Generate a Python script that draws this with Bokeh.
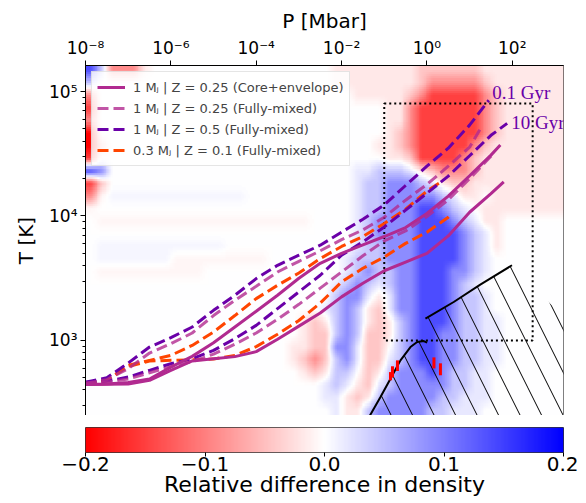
import numpy as np
from bokeh.plotting import figure
from bokeh.models import (Range1d, FixedTicker, CustomJSTickFormatter, LinearColorMapper,
                          Legend, LegendItem)
from bokeh.layouts import column
from bokeh.core.properties import value
from bokeh.embed import file_html
from bokeh.resources import INLINE

# ---------------- data (log10 P [Mbar], log10 T [K]) ----------------
logP_std = [-8, -7.5, -7, -6.5, -6, -5.5, -5, -4.5, -4, -3.5, -3, -2.5, -2, -1.5, -1, -0.5, 0, 0.5, 1]

# 1 MJ, Z=0.25, core+envelope (0.1 Gyr, 10 Gyr)
ce_young_logP = logP_std + [1.5, 1.72]
ce_young_logT = [2.647, 2.65, 2.663, 2.69, 2.786, 2.872, 2.982, 3.108, 3.234, 3.363, 3.50, 3.62,
                 3.70, 3.768, 3.835, 3.907, 4.02, 4.159, 4.323, 4.489, 4.57]
ce_old_logP = logP_std + [1.5, 1.8]
ce_old_logT = [2.647, 2.648, 2.65, 2.68, 2.76, 2.835, 2.853, 2.87, 2.91, 3.01, 3.115, 3.22,
               3.35, 3.46, 3.56, 3.63, 3.70, 3.84, 4.03, 4.18, 4.274]

# 1 MJ, Z=0.25, fully mixed
z025_young_logP = logP_std + [1.25]
z025_young_logT = [2.657, 2.685, 2.773, 2.899, 2.974, 3.06, 3.20, 3.323, 3.435, 3.55, 3.636, 3.72,
                   3.81, 3.888, 3.99, 4.127, 4.253, 4.40, 4.553, 4.70]
z025_old_logP = logP_std + [1.5, 1.56]
z025_old_logT = [2.657, 2.665, 2.69, 2.74, 2.79, 2.83, 2.89, 2.97, 3.06, 3.17, 3.29, 3.42,
                 3.55, 3.68, 3.80, 3.88, 3.996, 4.13, 4.30, 4.48, 4.503]

# 1 MJ, Z=0.5, fully mixed
z05_young_logP = logP_std + [1.45]
z05_young_logT = [2.665, 2.70, 2.818, 2.947, 3.022, 3.108, 3.242, 3.363, 3.497, 3.604, 3.685, 3.765,
                  3.87, 3.974, 4.089, 4.245, 4.40, 4.545, 4.73, 4.93]
z05_old_logP = logP_std + [1.5, 1.88]
z05_old_logT = [2.665, 2.673, 2.706, 2.76, 2.813, 2.853, 2.92, 3.014, 3.121, 3.256, 3.39, 3.524,
                3.685, 3.792, 3.912, 4.047, 4.183, 4.32, 4.484, 4.648, 4.744]

# 0.3 MJ, Z=0.1, fully mixed
s03_young_logP = logP_std[:17] + [0.36]
s03_young_logT = [2.652, 2.679, 2.80, 2.84, 2.88, 2.96, 3.068, 3.20, 3.336, 3.443, 3.542, 3.658,
                  3.755, 3.835, 3.94, 4.055, 4.20, 4.28]
s03_old_logP = logP_std[:18] + [0.59]
s03_old_logT = [2.652, 2.68, 2.79, 2.835, 2.84, 2.845, 2.85, 2.88, 2.95, 3.05, 3.16, 3.30,
                3.47, 3.58, 3.67, 3.78, 3.87, 3.99, 4.02]

# validity box (P in Mbar, T in K)
box_P = [0.1, 300]
box_T = [1000, 80000]

# boundary curves of the hatched region (log10 P, log10 T)
upper_logP = [-0.035, 0.627, 1.25, 1.993]
upper_logT = [3.175, 3.309, 3.449, 3.604]
lower_logP = [-1.39, -1.322, -1.088, -0.854, -0.620, -0.386, -0.229, -0.075, 0.005]
lower_logT = [2.36, 2.406, 2.545, 2.693, 2.840, 2.947, 2.987, 2.995, 2.982]
hatch_logP = lower_logP + upper_logP + [3.2, 3.3, 3.3, -1.39]
hatch_logT = lower_logT + upper_logT + [3.189, 3.189, 2.30, 2.30]

# experimental points (P in Mbar, T range in K)
exp_P = [0.14, 0.156, 0.204, 1.46, 2.07]
exp_Tlo = [478, 505, 568, 596, 525]
exp_Thi = [557, 620, 692, 731, 655]

# relative density difference map, cells of 0.25 dex in P (-8..3.25) and ~0.1 dex in T (top row first)
drho_levels = {"Y": -0.2, "R": -0.15, "r": -0.09, "p": -0.045, "q": -0.018, "f": -0.007, ".": 0.0,
               "e": 0.007, "c": 0.018, "l": 0.045, "b": 0.09, "B": 0.14}
drho_rows = [
    "Blrrr q.... ..... ..... ...qq qqqqq qpppp ppqqq qqqqq",
    "l.... ..... ..... ..... ...qq qqqqq qprrr rrpqq qqqqq",
    "r.... ..... ..... ..... ..... qqqqq prRRR RRrpq qqqqq",
    "R.... ..... ..... ..... ..... ...qq rRRRR RRrpq qqqqq",
    "r.... ..... ..... ..... ..... ...qq rRRRR RRrpq qqqqq",
    "Y.... ..... ..... ..... ..... ...qp rRRRR RRrpq qqqqq",
    "Yp... ..... ..... ..... ..... ..qqp rRRRR Rrpqq qqqqq",
    "R.... ..... ..... ..... ..... ...qq pRRRR rpqqq qqqqq",
    "Bb... ..... ..... ..... ..... cclll cqprr rpqqq qqqqq",
    "Rp... ..... ..... ..... ..... cllbb blcqp pqqqq qqqqq",
    "rfeee eeeee eeeee ..... ..... cllbb bbblc qq.qq qqqqq",
    "f.... ..... ..... ..... ..... cllbb bBBbl c.qqq qqqqq",
    ".ffff fffff fffff fffff f.... clbbb bBBBb lcqq. .....",
    "..... ..... ..... ..... ..... clbbb bBBBB blcq. .....",
    ".eeee eeeee eee.. ..... ..... cllbb bBBBB blcq. .....",
    ".eeee eeeff fffff ff... ....c lllbb bBBBB blc.. .....",
    ".ffff fffff f.... ..... ....c lbllb bBBBb blc.. .....",
    "..... ..... ..... ..... ...cl blclb bBBBb lc... .....",
    "..... ..... ..... ..... ...lb bcqcb bBBBb llc.. .....",
    "..... ..... ..... ..... ..clb lqpcb bBBBb llc.. .....",
    "..... ..... ..... ..... qpqlb lqpql bBBBb llcc. .....",
    "..... ..... ..... ..... qpplb lppql bBBbb llcc. .....",
    "..... ..... ..... ....q qppbb cpp.l bBBbb llcc. .....",
    "..... ..... ..... ....q prplb cppcl bBBbb llcc. .....",
    "..... ..... ..... ..... qpqll .pqlb bbBbl lcc.. .....",
    "..... ..... ..... ..... ..clc qpclb bbbbl lcc.. .....",
    "..... ..... ..... ..... ..ccq pqlbb bbbll ccc.. .....",
    "..... ..... ..... ..... ...cq qlbbb bbllc cc... .....",
]

# ---------------- styling helpers ----------------
purple = "#6a00a8"
magenta = "#b12a90"
orange = "#ff4500"
FONT = "DejaVu Sans"


def bwr_palette(n=256):
    pal = []
    for i in range(n):
        t = i / (n - 1)
        if t <= 0.5:
            v = int(round(255 * 2 * t))
            pal.append("#%02x%02x%02x" % (255, v, v))
        else:
            v = int(round(255 * 2 * (1 - t)))
            pal.append("#%02x%02x%02x" % (v, v, 255))
    return pal


mapper = LinearColorMapper(palette=bwr_palette(), low=-0.2, high=0.2)

# build map image (bottom row first) and smooth it for display
Z = np.array([[drho_levels[ch] for ch in r.replace(" ", "")] for r in drho_rows])[::-1]
ny, nx = Z.shape
f = 6
xc = (np.arange(nx) + 0.5) / nx
yc = (np.arange(ny) + 0.5) / ny
xf = (np.arange(nx * f) + 0.5) / (nx * f)
yf = (np.arange(ny * f) + 0.5) / (ny * f)
Zx = np.array([np.interp(xf, xc, row) for row in Z])
Zf = np.array([np.interp(yf, yc, col) for col in Zx.T]).T

sup_code = """
const e = Math.round(Math.log10(tick));
const m = {"-": "⁻", "0": "⁰", "1": "¹", "2": "²", "3": "³", "4": "⁴", "5": "⁵", "6": "⁶", "7": "⁷", "8": "⁸", "9": "⁹"};
let s = "";
for (const c of String(e)) { s += m[c]; }
return "10" + s;
"""

p = figure(width=578, height=415, x_axis_type="log", y_axis_type="log",
           x_range=Range1d(1e-8, 10 ** 3.2), y_range=Range1d(10 ** 2.397, 10 ** 5.209),
           x_axis_location="above", toolbar_location=None, output_backend="svg",
           min_border_left=85, min_border_right=15, min_border_top=65, min_border_bottom=0)
p.xgrid.visible = False
p.ygrid.visible = False
p.outline_line_color = "black"
p.outline_line_alpha = 1
p.outline_line_width = 1

p.image(image=[Zf], x=1e-8, y=10 ** 2.39, dw=10 ** 3.25 - 1e-8, dh=10 ** 5.22 - 10 ** 2.39,
        color_mapper=mapper)

# hatched region and its boundaries
p.patch(x=10 ** np.array(hatch_logP), y=10 ** np.array(hatch_logT), fill_color=None,
        line_color=None, hatch_pattern="\\", hatch_scale=43, hatch_weight=1, hatch_color="black")
p.line(10 ** np.array(upper_logP), 10 ** np.array(upper_logT), line_color="black", line_width=2)
p.line(10 ** np.array(lower_logP), 10 ** np.array(lower_logT), line_color="black", line_width=2)

# dotted box
p.quad(left=[box_P[0]], right=[box_P[1]], bottom=[box_T[0]], top=[box_T[1]], fill_color=None,
       line_color="black", line_width=2, line_dash="2 3")

# experimental points
p.segment(x0=exp_P, y0=exp_Tlo, x1=exp_P, y1=exp_Thi, line_color="#ff0000", line_width=3)


def curve(lp, lt, color, dash, alpha=1.0):
    kw = dict(line_color=color, line_width=3, line_alpha=alpha)
    if dash:
        kw["line_dash"] = "11 5"
    return p.line(10 ** np.array(lp), 10 ** np.array(lt), **kw)


r_s03 = curve(s03_young_logP, s03_young_logT, orange, True)
curve(s03_old_logP, s03_old_logT, orange, True)
r_z05 = curve(z05_young_logP, z05_young_logT, purple, True)
curve(z05_old_logP, z05_old_logT, purple, True)
r_z025 = curve(z025_young_logP, z025_young_logT, magenta, True, 0.8)
curve(z025_old_logP, z025_old_logT, magenta, True, 0.8)
r_ce = curve(ce_young_logP, ce_young_logT, magenta, False)
curve(ce_old_logP, ce_old_logT, magenta, False)

p.text(x=[10 ** 1.532], y=[10 ** 4.996], text=["0.1 Gyr"], text_font=value("Liberation Serif"),
       text_font_size="19px", text_color=purple, text_baseline="middle")
p.text(x=[10 ** 1.977], y=[10 ** 4.755], text=["10 Gyr"], text_font=value("Liberation Serif"),
       text_font_size="19px", text_color=purple, text_baseline="middle")

legend = Legend(items=[
    LegendItem(label="1 Mⱼ | Z = 0.25 (Core+envelope)", renderers=[r_ce]),
    LegendItem(label="1 Mⱼ | Z = 0.25 (Fully-mixed)", renderers=[r_z025]),
    LegendItem(label="1 Mⱼ | Z = 0.5 (Fully-mixed)", renderers=[r_z05]),
    LegendItem(label="0.3 Mⱼ | Z = 0.1 (Fully-mixed)", renderers=[r_s03]),
], location="top_left", margin=6, padding=5, spacing=1, glyph_width=28, glyph_height=20,
    label_height=20, label_standoff=8, label_text_font=FONT, label_text_font_size="13px",
    border_line_color="#cccccc", border_line_width=1, background_fill_alpha=0.8)
p.add_layout(legend)

# axes
xa = p.xaxis[0]
xa.ticker = FixedTicker(ticks=[1e-8, 1e-6, 1e-4, 1e-2, 1, 1e2], minor_ticks=[])
xa.axis_label = "P [Mbar]"
ya = p.yaxis[0]
ya.ticker = FixedTicker(ticks=[1e3, 1e4, 1e5],
                        minor_ticks=[k * 10 ** e for e in (2, 3, 4, 5) for k in range(2, 10)])
ya.axis_label = "T [K]"
for ax in (xa, ya):
    ax.formatter = CustomJSTickFormatter(code=sup_code)
    ax.major_label_text_font = FONT
    ax.major_label_text_font_size = "17px"
    ax.major_label_text_color = "black"
    ax.axis_label_text_font = FONT
    ax.axis_label_text_font_size = "20px"
    ax.axis_label_text_font_style = "normal"
    ax.axis_label_text_color = "black"
    ax.major_tick_out = 5
    ax.major_tick_in = 0
    ax.minor_tick_out = 3
    ax.minor_tick_in = 0
    ax.major_tick_line_color = "black"
    ax.minor_tick_line_color = "black"
    ax.axis_line_color = "black"
    ax.major_label_standoff = 3
xa.axis_label_standoff = 2
ya.axis_label_standoff = 8

# ---------------- colorbar ----------------
cb = figure(width=578, height=88, x_range=Range1d(-0.2, 0.2), y_range=Range1d(0, 1),
            toolbar_location=None, output_backend="svg",
            min_border_left=85, min_border_right=15, min_border_top=12, min_border_bottom=51)
cb.image(image=[np.linspace(-0.2, 0.2, 400)[None, :]], x=-0.2, y=0, dw=0.4, dh=1,
         color_mapper=mapper)
cb.xgrid.visible = False
cb.ygrid.visible = False
cb.yaxis.visible = False
cb.outline_line_color = "#333333"
cb.outline_line_alpha = 1
cax = cb.xaxis[0]
cax.ticker = FixedTicker(ticks=[-0.2, -0.1, 0.0, 0.1, 0.2], minor_ticks=[])
cax.formatter = CustomJSTickFormatter(code="""
const v = Math.abs(tick) < 1e-9 ? 0 : tick;
return (v < 0 ? "\\u2212" : "") + Math.abs(v).toFixed(1);
""")
cax.axis_label = "Relative difference in density"
cax.major_label_text_font = FONT
cax.major_label_text_font_size = "20px"
cax.axis_label_text_font = FONT
cax.axis_label_text_font_size = "22px"
cax.axis_label_text_font_style = "normal"
cax.axis_label_text_color = "black"
cax.major_label_text_color = "black"
cax.major_tick_out = 4
cax.major_tick_in = 0
cax.axis_line_color = None
cax.major_tick_line_color = "black"
cax.major_label_standoff = 0
cax.axis_label_standoff = -2

layout = column(p, cb)
open("out.html", "w").write(file_html(layout, INLINE, "Density difference"))
